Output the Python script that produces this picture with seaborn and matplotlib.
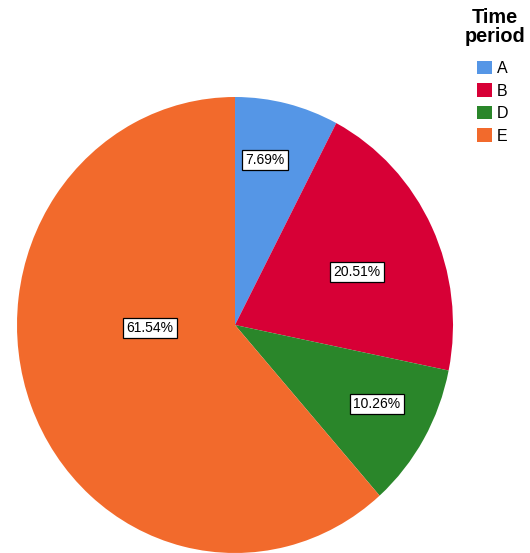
import matplotlib
matplotlib.use("Agg")
import matplotlib.pyplot as plt
import seaborn as sns

# Share of records per time period
periods = ["A", "B", "D", "E"]
shares = [7.69, 20.51, 10.26, 61.54]
colors = ["#5596E6", "#D70036", "#2A862A", "#F26A2C"]

sns.set_theme(style="white")
plt.rcParams["font.family"] = ["Liberation Sans", "DejaVu Sans"]
plt.rcParams["text.color"] = "black"
palette = sns.color_palette(colors)

W, H = 530, 553
fig = plt.figure(figsize=(W / 100, H / 100), dpi=100)
# pie area in pixel terms: x 17..453, y 97..553 (from top)
ax = fig.add_axes([17 / W, 0 / H, 436 / W, 456 / H])

wedges, texts, autotexts = ax.pie(
    shares,
    colors=palette,
    startangle=90,
    counterclock=False,
    autopct="%.2f%%",
    pctdistance=0.7,
    wedgeprops=dict(linewidth=0),
    textprops=dict(fontsize=10, color="black"),
)
ax.set_aspect("auto")
ax.set_xlim(-1, 1)
ax.set_ylim(-1, 1)
ax.axis("off")

# label placement within each slice (data coords of the unit pie)
label_pos = [(0.138, 0.724), (0.56, 0.232), (0.651, -0.346), (-0.39, -0.013)]
for t, pos in zip(autotexts, label_pos):
    t.set_position(pos)
    t.set_ha("center")
    t.set_va("center")
    t.set_bbox(dict(boxstyle="square,pad=0.22", fc="white", ec="black", lw=0.9))

# legend title and entries
fig.text(495 / W, 1 - 8 / H, "Time\nperiod", ha="center", va="top",
         fontsize=14.3, fontweight="bold", linespacing=1.0, multialignment="center")

leg = fig.legend(
    wedges,
    periods,
    loc="upper left",
    bbox_to_anchor=(477 / W, 1 - 61 / H),
    frameon=False,
    fontsize=11.5,
    handlelength=0.92,
    handleheight=0.92,
    handletextpad=0.3,
    labelspacing=0.45,
    borderpad=0.0,
    borderaxespad=0.0,
)
for txt in leg.get_texts():
    txt.set_color("black")

fig.savefig("out.png", dpi=100)
